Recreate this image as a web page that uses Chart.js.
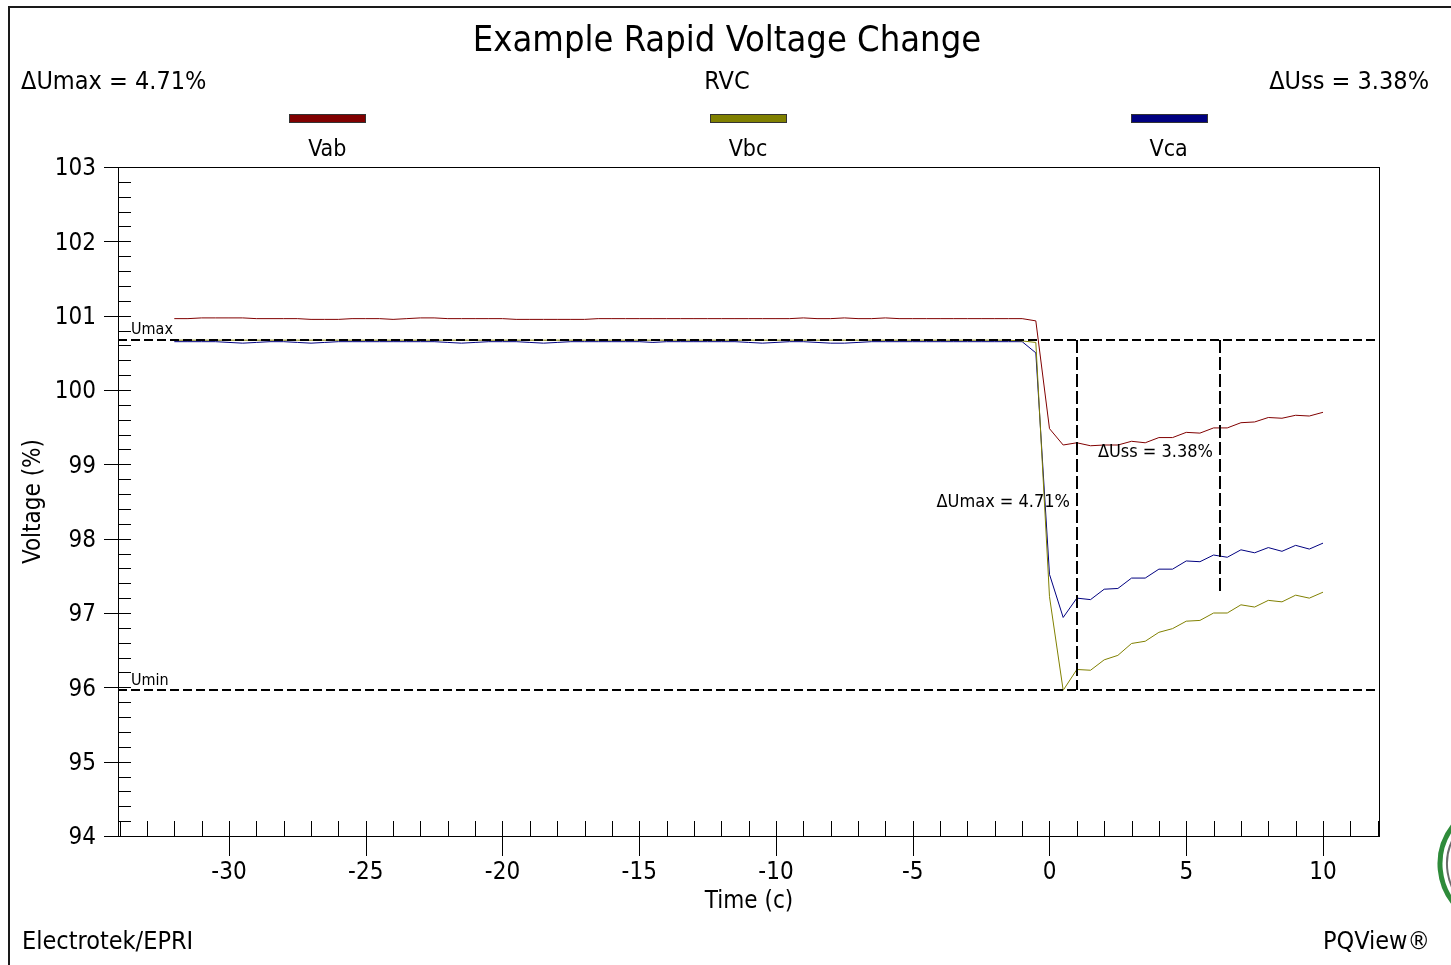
<!DOCTYPE html>
<html><head><meta charset="utf-8">
<script src="https://cdn.jsdelivr.net/npm/chart.js@4.4.1/dist/chart.umd.min.js"></script>
<style>html,body{margin:0;padding:0;background:#fff;overflow:hidden}#wrap{width:1451px;height:965px;position:relative}canvas{display:block}</style>
</head><body><div id="wrap"><canvas id="c" width="1451" height="965"></canvas></div>
<script>
// ---------- data ----------
const times = [
  -32,-31.5,-31,-30.5,-30,-29.5,-29,-28.5,-28,-27.5,
  -27,-26.5,-26,-25.5,-25,-24.5,-24,-23.5,-23,-22.5,
  -22,-21.5,-21,-20.5,-20,-19.5,-19,-18.5,-18,-17.5,
  -17,-16.5,-16,-15.5,-15,-14.5,-14,-13.5,-13,-12.5,
  -12,-11.5,-11,-10.5,-10,-9.5,-9,-8.5,-8,-7.5,
  -7,-6.5,-6,-5.5,-5,-4.5,-4,-3.5,-3,-2.5,
  -2,-1.5,-1,-0.5,0,0.5,1,1.5,2,2.5,
  3,3.5,4,4.5,5,5.5,6,6.5,7,7.5,
  8,8.5,9,9.5,10
];
const vab = [
  100.96,100.96,100.97,100.97,100.97,100.97,100.96,100.96,100.96,100.96,
  100.95,100.95,100.95,100.96,100.96,100.96,100.95,100.96,100.97,100.97,
  100.96,100.96,100.96,100.96,100.96,100.95,100.95,100.95,100.95,100.95,
  100.95,100.96,100.96,100.96,100.96,100.96,100.96,100.96,100.96,100.96,
  100.96,100.96,100.96,100.96,100.96,100.96,100.97,100.96,100.96,100.97,
  100.96,100.96,100.97,100.96,100.96,100.96,100.96,100.96,100.96,100.96,
  100.96,100.96,100.96,100.93,99.48,99.26,99.29,99.25,99.26,99.26,
  99.31,99.29,99.36,99.36,99.43,99.42,99.49,99.49,99.56,99.57,
  99.63,99.62,99.66,99.65,99.70
];
const vbc = [
  100.67,100.67,100.67,100.67,100.67,100.67,100.67,100.67,100.67,100.67,
  100.67,100.67,100.67,100.67,100.67,100.67,100.67,100.67,100.67,100.67,
  100.67,100.67,100.67,100.67,100.67,100.67,100.67,100.67,100.67,100.67,
  100.67,100.67,100.67,100.67,100.67,100.67,100.67,100.67,100.67,100.67,
  100.67,100.67,100.67,100.67,100.67,100.67,100.67,100.67,100.67,100.67,
  100.67,100.67,100.67,100.67,100.67,100.67,100.67,100.67,100.67,100.67,
  100.67,100.67,100.66,100.64,97.22,95.96,96.24,96.23,96.37,96.43,
  96.59,96.62,96.74,96.79,96.89,96.90,97.00,97.00,97.11,97.08,
  97.17,97.15,97.24,97.20,97.28
];
const vca = [
  100.65,100.65,100.65,100.65,100.64,100.63,100.64,100.65,100.65,100.64,
  100.63,100.64,100.65,100.65,100.65,100.65,100.65,100.65,100.65,100.65,
  100.64,100.63,100.64,100.65,100.65,100.65,100.64,100.63,100.64,100.65,
  100.65,100.65,100.65,100.65,100.65,100.64,100.65,100.65,100.65,100.65,
  100.65,100.65,100.64,100.63,100.64,100.65,100.65,100.64,100.63,100.63,
  100.64,100.65,100.65,100.65,100.65,100.65,100.65,100.65,100.65,100.65,
  100.65,100.65,100.65,100.50,97.52,96.94,97.20,97.18,97.32,97.33,
  97.47,97.47,97.59,97.59,97.70,97.69,97.78,97.75,97.85,97.81,
  97.88,97.83,97.91,97.86,97.94
];
const seriesNames = ['Vab', 'Vbc', 'Vca'];
const seriesColors = ['#800000', '#808000', '#000080'];
const xTicks = [-30, -25, -20, -15, -10, -5, 0, 5, 10];
const yTicks = [94, 95, 96, 97, 98, 99, 100, 101, 102, 103];
const uMax = 100.67;
const uMin = 95.96;
const uSs = 97.29;
const tUmaxMark = 1.0;
const tUssMark = 6.25;
const titleText = 'Example Rapid Voltage Change';
const subLeft = '\u0394Umax = 4.71%';
const subCenter = 'RVC';
const subRight = '\u0394Uss = 3.38%';
const footLeft = 'Electrotek/EPRI';
const footRight = 'PQView\u00AE';

// ---------- rendering ----------
const FAM = "'DejaVu Sans Condensed', 'DejaVu Sans', sans-serif";
const f = (s) => s + 'px ' + FAM;

const decor = {
  id: 'decor',
  afterDatasetsDraw(chart) {
    const {ctx, chartArea: a, scales: {x, y}} = chart;
    ctx.save();
    // dashed reference lines
    ctx.strokeStyle = '#000';
    ctx.lineWidth = 2;
    ctx.setLineDash([9, 4]);
    const yMax = Math.round(y.getPixelForValue(uMax));
    const yMin = Math.round(y.getPixelForValue(uMin));
    const ySs = Math.round(y.getPixelForValue(uSs));
    const x1 = Math.round(x.getPixelForValue(tUmaxMark));
    const x2 = Math.round(x.getPixelForValue(tUssMark));
    ctx.beginPath();
    ctx.moveTo(a.left, yMax); ctx.lineTo(a.right, yMax);
    ctx.moveTo(a.left, yMin); ctx.lineTo(a.right, yMin);
    ctx.stroke();
    ctx.setLineDash([13, 4]);
    ctx.beginPath();
    ctx.moveTo(x1, yMax); ctx.lineTo(x1, yMin);
    ctx.moveTo(x2, yMax); ctx.lineTo(x2, ySs);
    ctx.stroke();
    ctx.setLineDash([]);

    // plot border
    ctx.lineWidth = 1;
    ctx.strokeStyle = '#000';
    ctx.strokeRect(a.left + 0.5, a.top + 0.5, a.right - a.left - 1, a.bottom - a.top);

    // y ticks
    ctx.beginPath();
    for (let k = 0; k <= 45; k++) {
      const v = 94 + k * 0.2;
      const py = Math.round(y.getPixelForValue(v)) + 0.5;
      const major = k % 5 === 0;
      ctx.moveTo(major ? a.left - 14 : a.left, py);
      ctx.lineTo(a.left + 13, py);
    }
    // x ticks
    for (let t = -34; t <= 12; t++) {
      const px = Math.round(x.getPixelForValue(t)) + 0.5;
      const major = t % 5 === 0;
      ctx.moveTo(px, a.bottom - 15);
      ctx.lineTo(px, major ? a.bottom + 20 : a.bottom);
    }
    ctx.stroke();

    // Umax / Umin labels
    ctx.fillStyle = '#000';
    ctx.font = f(16);
    ctx.textAlign = 'left';
    ctx.textBaseline = 'alphabetic';
    ctx.fillText('Umax', a.left + 13, yMax - 6);
    ctx.fillText('Umin', a.left + 13, yMin - 5);

    // annotation labels
    ctx.font = f(18);
    ctx.textAlign = 'right';
    ctx.fillText(subLeft, x1 - 7, (yMax + yMin) / 2 - 8);
    ctx.fillText(subRight, x2 - 7, (yMax + ySs) / 2 - 9);
    ctx.restore();
  },
  afterDraw(chart) {
    const {ctx, chartArea: a} = chart;
    ctx.save();
    // outer frame
    ctx.fillStyle = '#1a1a1a';
    ctx.fillRect(8, 6, 1451 - 8, 2);
    ctx.fillRect(8, 6, 2, 965 - 6);

    ctx.fillStyle = '#000';
    ctx.textBaseline = 'alphabetic';
    ctx.font = f(36);
    ctx.textAlign = 'center';
    ctx.fillText(titleText, 727, 51);

    ctx.font = f(25);
    ctx.textAlign = 'left';
    ctx.fillText(subLeft, 21, 89);
    ctx.textAlign = 'center';
    ctx.fillText(subCenter, 727, 89);
    ctx.textAlign = 'right';
    ctx.fillText(subRight, 1429, 89);

    // legend
    const w = (a.right - a.left) / 3;
    chart.data.datasets.forEach((ds, i) => {
      const cx = a.left + w * (i + 0.5) - 1;
      ctx.fillStyle = ds.borderColor;
      ctx.fillRect(Math.round(cx - 38), 114, 77, 9);
      ctx.strokeStyle = '#333';
      ctx.lineWidth = 1;
      ctx.strokeRect(Math.round(cx - 38) + 0.5, 114.5, 76, 8);
      ctx.fillStyle = '#000';
      ctx.font = f(23);
      ctx.textAlign = 'center';
      ctx.fillText(ds.label, cx, 156);
    });

    // footer
    ctx.font = f(25);
    ctx.textAlign = 'left';
    ctx.fillText(footLeft, 22, 949);
    ctx.textAlign = 'right';
    ctx.fillText(footRight, 1430, 949);

    // partial logo at right edge
    ctx.lineWidth = 5;
    ctx.strokeStyle = '#2e8b3a';
    ctx.beginPath(); ctx.arc(1502, 864, 62, Math.PI * 0.72, Math.PI * 1.32); ctx.stroke();
    ctx.lineWidth = 2;
    ctx.strokeStyle = '#6b6b6b';
    ctx.beginPath(); ctx.arc(1502, 864, 55, Math.PI * 0.7, Math.PI * 1.28); ctx.stroke();
    ctx.lineWidth = 4;
    ctx.strokeStyle = '#3f9a45';
    ctx.beginPath(); ctx.arc(1502, 864, 48, Math.PI * 0.8, Math.PI * 1.2); ctx.stroke();
    ctx.restore();
  }
};

const mk = (arr) => times.map((t, i) => ({x: t, y: arr[i]}));
const seriesData = [vab, vbc, vca];

new Chart(document.getElementById('c'), {
  type: 'line',
  data: {
    datasets: seriesNames.map((n, i) => ({
      label: n,
      data: mk(seriesData[i]),
      borderColor: seriesColors[i],
      backgroundColor: seriesColors[i],
      borderWidth: 1,
      pointRadius: 0,
      tension: 0,
      fill: false
    }))
  },
  options: {
    responsive: false,
    animation: false,
    devicePixelRatio: 1,
    layout: {padding: {left: 0, top: 167, right: 71, bottom: 0}},
    plugins: {legend: {display: false}, title: {display: false}, tooltip: {enabled: false}},
    scales: {
      x: {
        type: 'linear',
        min: -34.058,
        max: 12.084,
        afterBuildTicks: (s) => { s.ticks = xTicks.map(v => ({value: v})); },
        afterFit: (s) => { s.height = 129; },
        grid: {display: false, drawTicks: false},
        border: {display: false},
        ticks: {color: '#000', font: {family: FAM, size: 24}, padding: 22, maxRotation: 0, autoSkip: false},
        title: {display: true, text: 'Time (c)', color: '#000', font: {family: FAM, size: 24}, padding: {top: 0, bottom: 49}}
      },
      y: {
        type: 'linear',
        min: 94,
        max: 103,
        afterBuildTicks: (s) => { s.ticks = yTicks.map(v => ({value: v})); },
        afterFit: (s) => { s.width = 118; },
        grid: {display: false, drawTicks: false},
        border: {display: false},
        ticks: {color: '#000', font: {family: FAM, size: 24}, padding: 22, labelOffset: 2, autoSkip: false},
        title: {display: true, text: 'Voltage (%)', color: '#000', font: {family: FAM, size: 24}, padding: {top: 19, bottom: 0}}
      }
    }
  },
  plugins: [decor]
});
</script>
</body></html>
